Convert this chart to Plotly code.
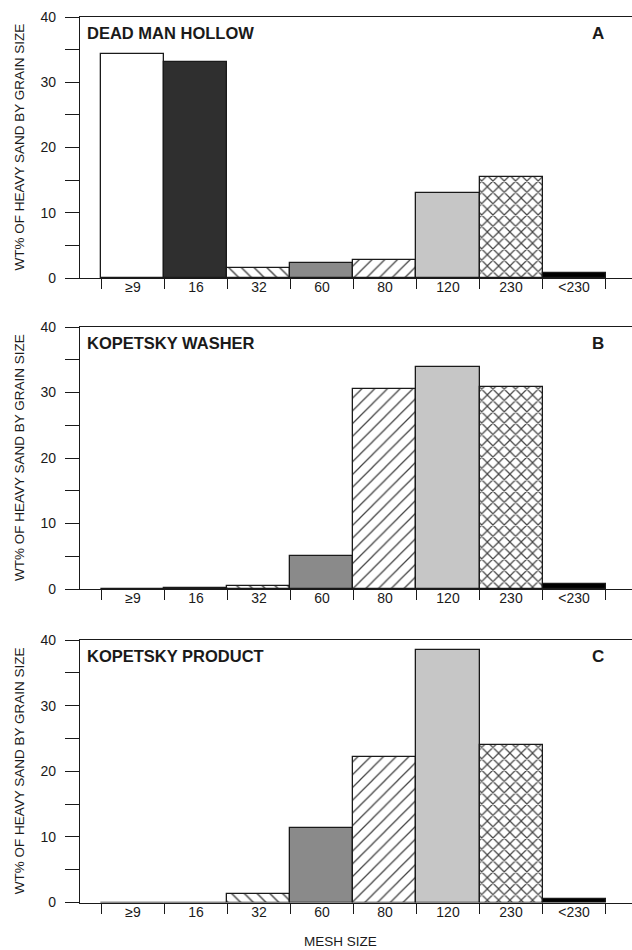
import plotly.graph_objects as go

# mesh size classes (x axis)
mesh_sizes = ["≥9", "16", "32", "60", "80", "120", "230", "<230"]

# wt% of heavy sand by grain size
dead_man_hollow = [34.4, 33.1, 1.6, 2.3, 2.7, 13.0, 15.5, 0.8]
kopetsky_washer = [0.0, 0.2, 0.5, 5.0, 30.5, 33.9, 30.9, 0.7]
kopetsky_product = [0.0, 0.0, 1.3, 11.3, 22.1, 38.5, 24.0, 0.5]

panel_names = ["DEAD MAN HOLLOW", "KOPETSKY WASHER", "KOPETSKY PRODUCT"]
panel_letters = ["A", "B", "C"]

y_ticks = [0, 5, 10, 15, 20, 25, 30, 35, 40]
y_ticktext = ["0", "", "10", "", "20", "", "30", "", "40"]

# fill used for each mesh class (same in all three panels)
fill_colors = ["white", "#2f2f2f", "white", "#8a8a8a", "white", "#c6c6c6", "white", "black"]
hatch = ["", "", "\\", "", "/", "", "x", ""]
hatch_size = [8, 8, 9, 8, 9, 8, 8, 8]
hatch_solid = [0.2, 0.2, 0.16, 0.2, 0.14, 0.2, 0.28, 0.2]

W, H = 632, 950
left = 80
# pixel rows of y=0 and y=40 for each panel
panel_px = [(278, 17), (589, 327), (902.5, 640)]

font = "Liberation Sans, Arial, sans-serif"
ink = "#1a1a1a"

fig = go.Figure()
series = [dead_man_hollow, kopetsky_washer, kopetsky_product]

for i, vals in enumerate(series):
    n = i + 1
    sx = "x" if n == 1 else f"x{n}"
    sy = "y" if n == 1 else f"y{n}"
    fig.add_trace(go.Bar(
        x=mesh_sizes, y=vals, xaxis=sx, yaxis=sy,
        width=1.0,
        marker=dict(
            color=fill_colors,
            line=dict(color=ink, width=1.3),
            pattern=dict(shape=hatch, fillmode="overlay", fgcolor="black",
                         fgopacity=1, size=hatch_size, solidity=hatch_solid),
        ),
        showlegend=False, hoverinfo="x+y",
    ))

layout = dict(
    template="none",
    width=W, height=H,
    margin=dict(l=left, r=0, t=0, b=0, autoexpand=False),
    paper_bgcolor="white", plot_bgcolor="white",
    bargap=0,
    font=dict(family=font, size=14, color=ink),
)

annotations = []
for i in range(3):
    n = i + 1
    kx = "xaxis" if n == 1 else f"xaxis{n}"
    ky = "yaxis" if n == 1 else f"yaxis{n}"
    y0, y40 = panel_px[i]
    layout[kx] = dict(
        type="category", categoryorder="array", categoryarray=mesh_sizes,
        range=[-0.84, 7.92], domain=[0, 1], automargin=False,
        anchor="y" if n == 1 else f"y{n}",
        showline=True, mirror=True, linecolor=ink, linewidth=1.4,
        ticks="outside", tickson="boundaries", ticklen=10, tickcolor=ink, tickwidth=1.4,
        ticklabelstandoff=-4,
        showgrid=False, zeroline=False,
        tickfont=dict(size=14, color=ink),
    )
    layout[ky] = dict(
        range=[0, 40], tickmode="array", tickvals=y_ticks, ticktext=y_ticktext,
        domain=[1 - y0 / H, 1 - y40 / H], automargin=False,
        anchor="x" if n == 1 else f"x{n}",
        showline=True, linecolor=ink, linewidth=1.4,
        ticks="outside", ticklen=14, tickcolor=ink, tickwidth=1.4,
        ticklabelstandoff=6,
        showgrid=False, zeroline=False,
        tickfont=dict(size=14, color=ink),
    )
    ref_x = "x domain" if n == 1 else f"x{n} domain"
    ref_y = "y" if n == 1 else f"y{n}"
    annotations.append(dict(
        text=f"<b>{panel_names[i]}</b>", xref=ref_x,
        yref=ref_y, x=(85 - left) / (W - left), y=37.5, xanchor="left", yanchor="middle",
        showarrow=False, font=dict(size=16.5, color=ink),
    ))
    annotations.append(dict(
        text=f"<b>{panel_letters[i]}</b>", xref=ref_x,
        yref=ref_y, x=(598 - left) / (W - left), y=37.5, xanchor="center", yanchor="middle",
        showarrow=False, font=dict(size=17, color=ink),
    ))
    annotations.append(dict(
        text="WT% OF HEAVY SAND BY GRAIN SIZE", textangle=-90,
        xref="paper", yref=f"y{'' if n == 1 else n} domain",
        x=-(left - 19) / (W - left), y=0.5, xanchor="center", yanchor="middle",
        showarrow=False, font=dict(size=13.5, color=ink),
    ))

annotations.append(dict(
    text="MESH SIZE", xref="paper", yref="paper",
    x=(340 - left) / (W - left), y=1 - 941 / H, xanchor="center", yanchor="middle",
    showarrow=False, font=dict(size=13.5, color=ink),
))
layout["annotations"] = annotations

fig.update_layout(**layout)
# the page body has an 8px default margin; drop it so the figure sits at 0,0
fig.write_html("out.html", config={"displayModeBar": False},
               post_script="document.body.style.margin = '0';")
